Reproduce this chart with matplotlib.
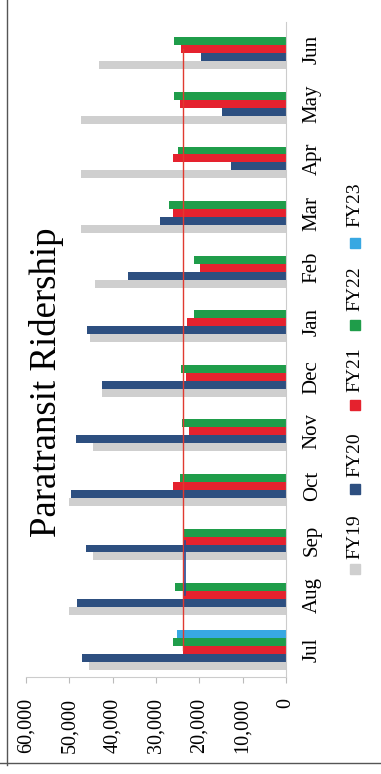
import matplotlib
matplotlib.use("Agg")
import matplotlib.pyplot as plt
import numpy as np
from matplotlib.patches import Rectangle
from matplotlib.lines import Line2D

months = ["Jul", "Aug", "Sep", "Oct", "Nov", "Dec", "Jan", "Feb", "Mar", "Apr", "May", "Jun"]
fy19 = [45500, 50100, 44500, 50100, 44600, 42500, 45300, 44100, 47300, 47300, 47300, 43200]
fy20 = [47100, 48300, 46200, 49700, 48500, 42500, 45900, 36500, 29100, 12700, 14800, 19600]
fy21 = [23800, 23800, 23800, 26100, 22400, 23100, 22900, 19900, 26100, 26100, 24500, 24200]
fy22 = [26100, 25600, 23800, 24500, 24000, 24200, 21200, 21200, 27000, 24900, 25900, 25900]
fy23 = [25200]
red_line = [23800] * 12
blue_line = [np.nan, 23400, 23400] + [np.nan] * 9
series_names = ["FY19", "FY20", "FY21", "FY22", "FY23"]
colors = ["#cfcfcf", "#2d4f80", "#e5222e", "#1f9d4a", "#38a8e2"]

serif = ["Liberation Serif", "DejaVu Serif"]

W, H = 381, 774
fig = plt.figure(figsize=(W / 100, H / 100), dpi=100)
ax = fig.add_axes([26 / W, 1 - 677 / H, 260 / W, 655 / H])

slot = 0.146
series = [fy19, fy20, fy21, fy22, fy23]
for i, (vals, c) in enumerate(zip(series, colors)):
    y = np.arange(len(vals)) + (i - 2) * slot
    ax.barh(y, vals, height=slot, color=c, edgecolor="none", zorder=2)

idx = np.arange(len(months))
ax.plot(red_line, idx, color="#e03a30", lw=1.0, zorder=3)
ax.plot(blue_line, idx, color="#2a4a92", lw=1.2, zorder=3)

ax.set_xlim(60000, 0)
ax.set_ylim(-0.5, len(months) - 0.5)
ax.set_xticks([60000, 50000, 40000, 30000, 20000, 10000, 0])
ax.set_xticklabels(["60,000", "50,000", "40,000", "30,000", "20,000", "10,000", "0"],
                   rotation=90, family=serif, fontsize=14.5, va="top", ha="center")
ax.yaxis.tick_right()
ax.set_yticks(idx)
ax.set_yticklabels(months, rotation=90, family=serif, fontsize=15, va="center", ha="left")
ax.tick_params(axis="y", length=0, pad=12)
ax.tick_params(axis="x", length=4, color="#bbbbbb", pad=11)
for s in ["top", "left"]:
    ax.spines[s].set_visible(False)
for s in ["bottom", "right"]:
    ax.spines[s].set_color("#cccccc")
    ax.spines[s].set_linewidth(0.8)

fig.text(47 / W, 1 - 382 / H, "Paratransit Ridership", rotation=90, family=serif,
         fontsize=26.5, ha="center", va="center")

# legend
marker_y = [569, 489, 405, 325, 243]
text_y = [537, 455, 370, 289, 205]
lx = 355
for name, c, my, ty in zip(series_names, colors, marker_y, text_y):
    fig.patches.append(Rectangle(((lx - 5) / W, 1 - (my + 5) / H), 10 / W, 10 / H,
                                 transform=fig.transFigure, color=c, figure=fig))
    fig.text(lx / W, 1 - ty / H, name, rotation=90, family=serif, fontsize=14,
             ha="center", va="center")

# outer frame lines
fig.lines.append(Line2D([7 / W, 7 / W], [1 - 765 / H, 1.0], transform=fig.transFigure,
                        color="#555555", lw=1.0))
fig.lines.append(Line2D([0, 1], [1 - 763 / H, 1 - 763 / H], transform=fig.transFigure,
                        color="#555555", lw=1.0))

fig.savefig("out.png", dpi=100)
